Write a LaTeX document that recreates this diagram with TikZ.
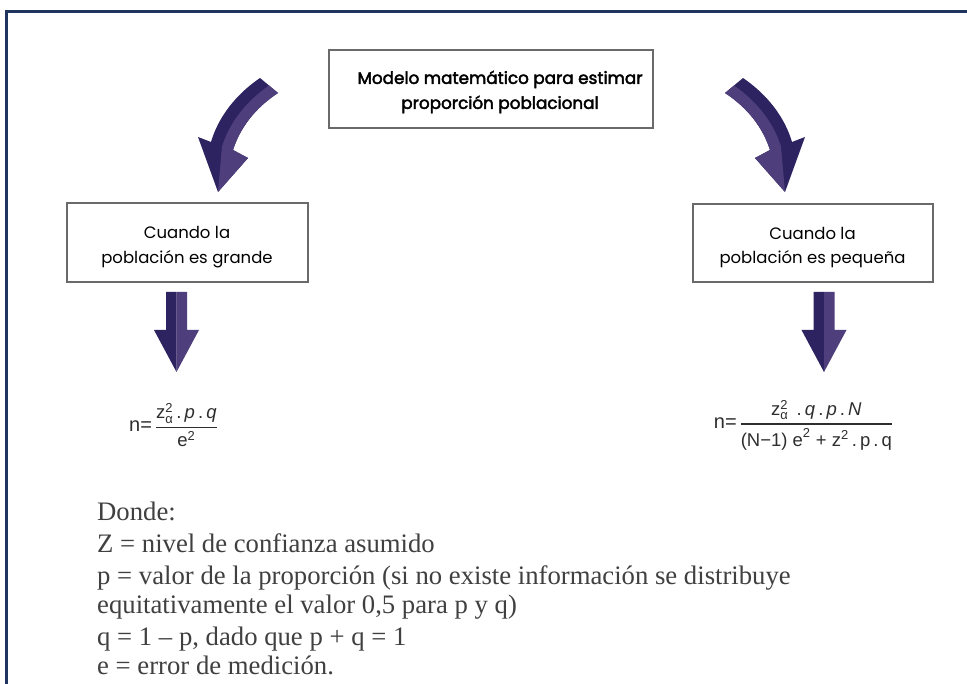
\documentclass[tikz,border=0pt]{standalone}
\usepackage{fontspec}
\usepackage{amsmath}
\setmainfont{Liberation Serif}
\newfontfamily\popfont{Poppins}
\newfontfamily\popmed{Poppins}[FakeBold=2.5]
\newfontfamily\arialfont{Liberation Sans}
\definecolor{framenavy}{HTML}{1F3560}
\definecolor{boxgray}{HTML}{6A6A6A}
\definecolor{arrowdark}{HTML}{2C2360}
\definecolor{arrowlight}{HTML}{4E3E7B}
\definecolor{bodytext}{HTML}{404040}
\definecolor{formtext}{HTML}{2E2E2E}
\begin{document}
\begin{tikzpicture}[x=1pt,y=-1pt,
  box/.style={draw=boxgray, line width=1.6pt, fill=white, inner sep=0pt},
  boxtext/.style={inner sep=0pt, align=center, text=black},
  titletext/.style={boxtext, font=\popmed\fontsize{16.8}{25}\selectfont},
  casetext/.style={boxtext, font=\popfont\fontsize{16.5}{24.5}\selectfont},
  formula/.style={inner sep=0pt, text=formtext, font=\arialfont\fontsize{18.5}{21}\selectfont},
  bodyline/.style={anchor=base west, inner sep=0pt, text=bodytext, font=\fontsize{26.7}{30}\selectfont}]
\useasboundingbox (0,0) rectangle (967,684);
\fill[white] (0,0) rectangle (967,684);

% outer frame (open to the right and bottom)
\draw[framenavy, line width=2.6pt] (6.5,684) -- (6.5,11.5) -- (967,11.5);

% boxes
\node[box, minimum width=324pt, minimum height=78pt] (title) at (491,89) {};
\node[titletext] (titlelabel) at (500,92) {Modelo matemático para estimar\\proporción poblacional};
\node[box, minimum width=241pt, minimum height=79pt] (big) at (187.5,242.5) {};
\node[casetext] (biglabel) at (187,247) {Cuando la\\población es grande};
\node[box, minimum width=240pt, minimum height=78pt] (small) at (813,243) {};
\node[casetext] (smalllabel) at (812.5,247.5) {Cuando la\\población es pequeña};

% curved arrow towards the left case
\begin{scope}
  \fill[arrowdark] (260,78) .. controls (235,95) and (218,118) .. (211,142)
    -- (198,137) -- (218,192) -- (248,158) -- (233,150)
    .. controls (240,128) and (255,108) .. (278,93) -- cycle;
  \fill[arrowlight] (269,85.5) .. controls (245,102) and (229,124) .. (222,146.5)
    -- (218,192) -- (248,158) -- (233,150)
    .. controls (240,128) and (255,108) .. (278,93) -- cycle;
\end{scope}
% mirrored curved arrow towards the right case
\begin{scope}[xshift=1003pt, xscale=-1]
  \fill[arrowdark] (260,78) .. controls (235,95) and (218,118) .. (211,142)
    -- (198,137) -- (218,192) -- (248,158) -- (233,150)
    .. controls (240,128) and (255,108) .. (278,93) -- cycle;
  \fill[arrowlight] (269,85.5) .. controls (245,102) and (229,124) .. (222,146.5)
    -- (218,192) -- (248,158) -- (233,150)
    .. controls (240,128) and (255,108) .. (278,93) -- cycle;
\end{scope}

% straight down arrows
\foreach \cx in {176.5,824}{
  \fill[arrowdark] (\cx-10.5,292) -- (\cx,292) -- (\cx,372) -- (\cx-22.5,330) -- (\cx-10.5,330) -- cycle;
  \fill[arrowlight] (\cx,292) -- (\cx+10.5,292) -- (\cx+10.5,330) -- (\cx+22.5,330) -- (\cx,372) -- cycle;
}

% formulas
\node[formula] (fbig) at (173.5,425) {$\text{\fontsize{20}{20}\selectfont n=}\,\genfrac{}{}{1.2pt}{0}{\text{z}_{\text{α}}^{\text{2}}\text{\,.\,}\textit{p}\text{\,.\,}\textit{q}}{\text{e}^{\text{2}}}$};
\node[formula] (fsmall) at (803.5,425) {$\text{\fontsize{20}{20}\selectfont n=}\,\genfrac{}{}{1.2pt}{0}{\text{z}_{\text{α}}^{\text{2}}\text{ \,.\,}\textit{q}\text{\,.\,}\textit{p}\text{\,.\,}\textit{N}}{\text{(N−1) e}^{\text{2}}\text{ + z}^{\text{2}}\text{\,.\,p\,.\,q}}$};

% definitions
\node[bodyline] (d1) at (97,520.5) {Donde:};
\node[bodyline] (d2) at (97,552.5) {Z = nivel de confianza asumido};
\node[bodyline] (d3) at (97,584.5) {p = valor de la proporción (si no existe información se distribuye};
\node[bodyline] (d4) at (97,613.5) {equitativamente el valor 0,5 para p y q)};
\node[bodyline] (d5) at (97,645.5) {q = 1 – p, dado que p + q = 1};
\node[bodyline] (d6) at (97,674.5) {e = error de medición.};
\end{tikzpicture}
\end{document}
